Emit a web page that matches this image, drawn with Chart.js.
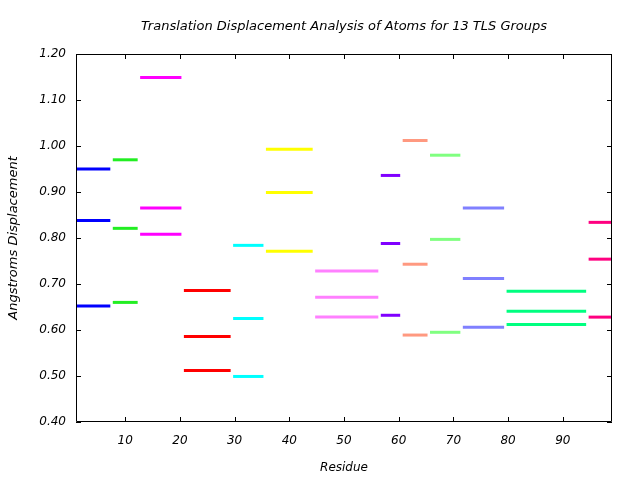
<!DOCTYPE html>
<html lang="en">
<head>
    <meta charset="UTF-8">
    <title>TLS Translation Displacement</title>
    <script src="https://cdn.jsdelivr.net/npm/chart.js"></script>
    <style>
        body {
            margin: 0;
            padding: 0;
            background-color: #ffffff;
        }
        .chart-container {
            width: 640px;
            height: 480px;
        }
    </style>
</head>
<body>
    <div class="chart-container">
        <canvas id="tlsChart" width="640" height="480"></canvas>
    </div>
    <script>
        // residue ranges of the 13 TLS groups
        const groupStart = [1, 8, 13, 21, 30, 36, 45, 57, 61, 66, 72, 80, 95];
        const groupEnd = [7, 12, 20, 29, 35, 44, 56, 60, 65, 71, 79, 94, 99];

        // three displacement levels per group (angstroms)
        const levelHigh = [0.950, 0.970, 1.149, 0.686, 0.784, 0.993, 0.728, 0.936, 1.012, 0.980, 0.865, 0.684, 0.834];
        const levelMid = [0.838, 0.821, 0.865, 0.586, 0.625, 0.899, 0.671, 0.788, 0.743, 0.797, 0.712, 0.641, 0.754];
        const levelLow = [0.652, 0.660, 0.808, 0.512, 0.499, 0.771, 0.628, 0.632, 0.589, 0.595, 0.606, 0.612, 0.628];

        const xTicks = [10, 20, 30, 40, 50, 60, 70, 80, 90];
        const yTicks = [0.4, 0.5, 0.6, 0.7, 0.8, 0.9, 1.0, 1.1, 1.2];

        const chartTitle = "Translation Displacement Analysis of Atoms for 13 TLS Groups";

        const groupColors = ["#0000ff", "#22ee22", "#ff00ff", "#ff0000", "#00ffff", "#ffff00", "#ff80ff",
            "#8000ff", "#ff9980", "#80ff80", "#8080ff", "#00ff80", "#ff0080"];

        const labelFont = { family: "'DejaVu Sans', sans-serif", size: 12, style: "italic" };

        let datasets = [];
        groupStart.forEach((start, i) => {
            [levelHigh, levelMid, levelLow].forEach(level => {
                datasets.push({
                    data: [{ x: start, y: level[i] }, { x: groupEnd[i], y: level[i] }],
                    borderColor: groupColors[i],
                    borderWidth: 3,
                    borderCapStyle: "square",
                    pointRadius: 0,
                    fill: false
                });
            });
        });

        // frame with inward ticks and a title centred over the plot, gnuplot style
        const framePlugin = {
            id: "frame",
            afterDraw(chart) {
                const ctx = chart.ctx;
                const a = chart.chartArea;
                const xs = chart.scales.x;
                const ys = chart.scales.y;
                const tl = 5;
                ctx.save();
                ctx.strokeStyle = "#000";
                ctx.lineWidth = 1;
                ctx.beginPath();
                ctx.rect(a.left + 0.5, a.top + 0.5, a.right - a.left - 1, a.bottom - a.top - 1);
                xTicks.forEach(v => {
                    const px = Math.round(xs.getPixelForValue(v)) + 0.5;
                    ctx.moveTo(px, a.bottom);
                    ctx.lineTo(px, a.bottom - tl);
                    ctx.moveTo(px, a.top);
                    ctx.lineTo(px, a.top + tl);
                });
                yTicks.forEach(v => {
                    const py = Math.round(ys.getPixelForValue(v)) + 0.5;
                    ctx.moveTo(a.left, py);
                    ctx.lineTo(a.left + tl, py);
                    ctx.moveTo(a.right, py);
                    ctx.lineTo(a.right - tl, py);
                });
                ctx.stroke();

                ctx.fillStyle = "#000";
                ctx.font = "italic 13px 'DejaVu Sans', sans-serif";
                ctx.textAlign = "center";
                ctx.textBaseline = "middle";
                ctx.fillText(chartTitle, (a.left + a.right) / 2, 27);
                ctx.restore();
            }
        };

        new Chart(document.getElementById("tlsChart").getContext("2d"), {
            type: "line",
            data: { datasets: datasets },
            options: {
                responsive: false,
                animation: false,
                layout: { padding: { left: 0, right: 28, top: 54, bottom: 0 } },
                plugins: {
                    legend: { display: false },
                    tooltip: { enabled: false },
                    title: { display: false }
                },
                scales: {
                    x: {
                        type: "linear",
                        min: 1,
                        max: 99,
                        afterBuildTicks: scale => { scale.ticks = xTicks.map(v => ({ value: v })); },
                        afterFit: scale => { scale.height = 58; },
                        grid: { display: false, drawTicks: false },
                        border: { display: false },
                        ticks: { color: "#000", font: labelFont, padding: 12, maxRotation: 0 },
                        title: {
                            display: true,
                            text: "Residue",
                            color: "#000",
                            font: labelFont,
                            padding: { top: 8, bottom: 5 }
                        }
                    },
                    y: {
                        min: 0.4,
                        max: 1.2,
                        afterBuildTicks: scale => { scale.ticks = yTicks.map(v => ({ value: v })); },
                        afterFit: scale => { scale.width = 76; },
                        grid: { display: false, drawTicks: false },
                        border: { display: false },
                        ticks: {
                            color: "#000",
                            font: labelFont,
                            padding: 10,
                            callback: v => v.toFixed(2)
                        },
                        title: {
                            display: true,
                            text: "Angstroms Displacement",
                            color: "#000",
                            font: { family: "'DejaVu Sans', sans-serif", size: 13, style: "italic" },
                            padding: { top: 6, bottom: 0 }
                        }
                    }
                }
            },
            plugins: [framePlugin]
        });
    </script>
</body>
</html>
